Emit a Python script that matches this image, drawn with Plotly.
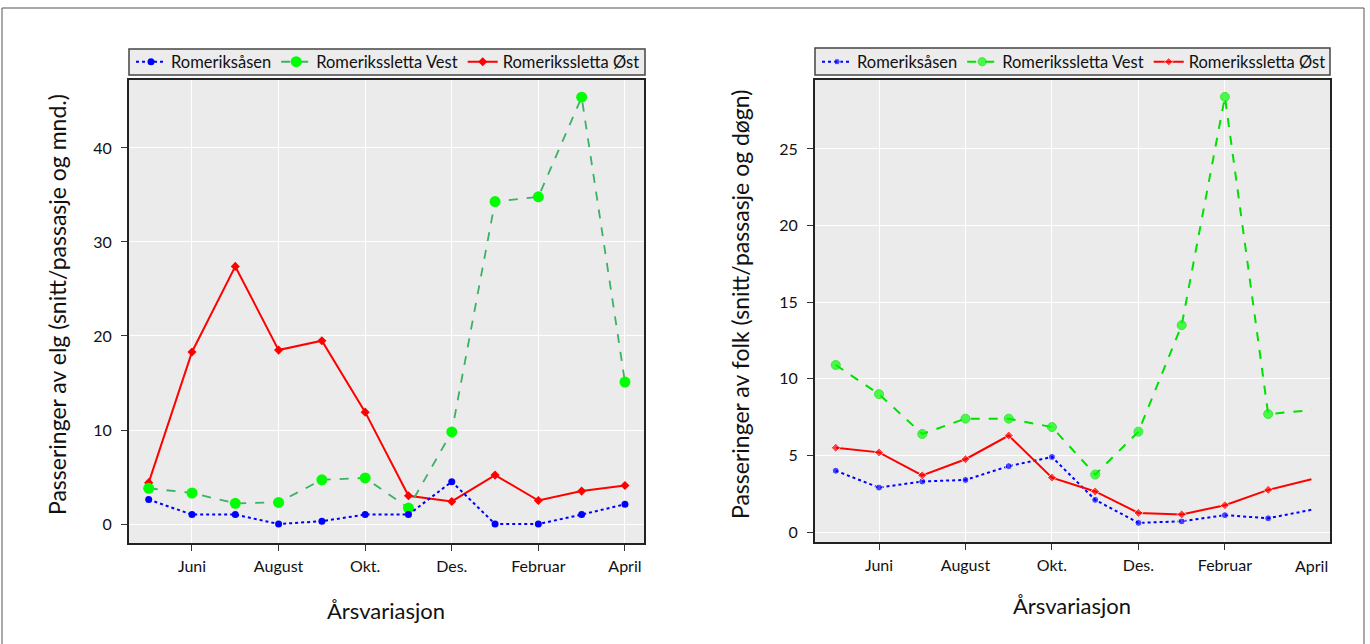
import plotly.graph_objects as go

W, H = 1370, 644

# Month index: 0 = mai ... 11 = april
months = list(range(12))
tick_pos = [1, 3, 5, 7, 9, 11]
tick_text = ["Juni", "August", "Okt.", "Des.", "Februar", "April"]

series_names = ["Romeriksåsen", "Romerikssletta Vest", "Romerikssletta Øst"]

# Elg: snitt passeringer per passasje og måned
elg_aasen = [2.6, 1.0, 1.0, 0.0, 0.3, 1.0, 1.0, 4.5, 0.0, 0.0, 1.0, 2.1]
elg_vest = [3.8, 3.3, 2.2, 2.3, 4.7, 4.9, 1.7, 9.8, 34.3, 34.8, 45.4, 15.1]
elg_ost = [4.4, 18.3, 27.4, 18.5, 19.5, 11.9, 3.0, 2.4, 5.2, 2.5, 3.5, 4.1]

# Folk: snitt passeringer per passasje og døgn
folk_aasen = [4.0, 2.9, 3.3, 3.4, 4.3, 4.9, 2.1, 0.6, 0.7, 1.1, 0.9, 1.45]
folk_vest = [10.9, 9.0, 6.4, 7.4, 7.4, 6.85, 3.75, 6.55, 13.5, 28.4, 7.7, 7.95]
folk_ost = [5.5, 5.2, 3.7, 4.75, 6.3, 3.55, 2.65, 1.25, 1.15, 1.75, 2.75, 3.45]

FONT = "Lato"
BLUE, RED, LIME = "#0000ff", "#ff0000", "#00ff00"


def px_x(p):
    return p / W


def px_y(p):
    return 1 - p / H


fig = go.Figure()

# ---- left panel: elg (red drawn first so the green markers sit on top) ----
fig.add_trace(go.Scatter(
    x=months, y=elg_ost, name=series_names[2], mode="lines+markers",
    line=dict(color=RED, width=2),
    marker=dict(color=RED, size=7, symbol="diamond"), xaxis="x", yaxis="y",
    legend="legend", legendrank=3))
fig.add_trace(go.Scatter(
    x=months, y=elg_vest, name=series_names[1], mode="lines+markers",
    line=dict(color="#3cb064", width=1.8, dash="dash"),
    marker=dict(color=LIME, size=11), xaxis="x", yaxis="y", legend="legend",
    legendrank=2))
fig.add_trace(go.Scatter(
    x=months, y=elg_aasen, name=series_names[0], mode="lines+markers",
    line=dict(color=BLUE, width=2, dash="dot"),
    marker=dict(color=BLUE, size=7), xaxis="x", yaxis="y", legend="legend",
    legendrank=1))

# ---- right panel: folk (last point drawn without a marker) ----
end_sizes = lambda s: [s] * (len(months) - 1) + [0]
fig.add_trace(go.Scatter(
    x=months, y=folk_aasen, name=series_names[0], mode="lines+markers",
    line=dict(color=BLUE, width=2, dash="dot"),
    marker=dict(color=BLUE, size=end_sizes(7)), xaxis="x2", yaxis="y2",
    legend="legend2"))
fig.add_trace(go.Scatter(
    x=months, y=folk_vest, name=series_names[1], mode="lines+markers",
    line=dict(color="#00e000", width=2, dash="dash"),
    marker=dict(color=LIME, size=end_sizes(9)), xaxis="x2", yaxis="y2",
    legend="legend2"))
fig.add_trace(go.Scatter(
    x=months, y=folk_ost, name=series_names[2], mode="lines+markers",
    line=dict(color=RED, width=2),
    marker=dict(color=RED, size=end_sizes(7), symbol="diamond"), xaxis="x2",
    yaxis="y2", legend="legend2"))

axis_common = dict(
    showline=True, mirror=True, linecolor="#222", linewidth=2,
    ticks="outside", ticklen=6, tickwidth=1, tickcolor="#333",
    gridcolor="#ffffff", gridwidth=1, zeroline=False,
    tickfont=dict(family=FONT, size=16, color="#111"),
    automargin=False, fixedrange=True,
)

left_dom_x = [px_x(129), px_x(644)]
right_dom_x = [px_x(815), px_x(1330)]
left_dom_y = [px_y(543), px_y(80)]
right_dom_y = [px_y(542), px_y(80)]

legend_common = dict(
    orientation="h", xanchor="left", yanchor="middle",
    bgcolor="rgba(0,0,0,0)", borderwidth=0,
    font=dict(family=FONT, size=16.5, color="#111"),
)

fig.update_layout(
    width=W, height=H,
    margin=dict(l=0, r=0, t=0, b=0),
    paper_bgcolor="white", plot_bgcolor="#ebebeb",
    showlegend=True,
    xaxis=dict(domain=left_dom_x, range=[-0.455, 11.44], tickvals=tick_pos,
               ticktext=tick_text, ticklabelstandoff=2, anchor="y",
               **axis_common),
    yaxis=dict(domain=left_dom_y, range=[-2.02, 47.23],
               tickvals=[0, 10, 20, 30, 40], ticklabelstandoff=6, anchor="x",
               **axis_common),
    xaxis2=dict(domain=right_dom_x, range=[-0.48, 11.43],
                tickvals=tick_pos[:-1], ticktext=tick_text[:-1],
                ticklabelstandoff=2, anchor="y2", **axis_common),
    yaxis2=dict(domain=right_dom_y, range=[-0.65, 29.5],
                tickvals=[0, 5, 10, 15, 20, 25], ticklabelstandoff=6,
                anchor="x2", **axis_common),
    legend=dict(x=px_x(131), y=px_y(62), **legend_common),
    legend2=dict(x=px_x(817), y=px_y(62), **legend_common),
)

title_font = dict(family=FONT, size=23, color="#111")
xtitle_font = dict(family=FONT, size=22, color="#111")
centered = dict(xref="paper", yref="paper", showarrow=False,
                xanchor="center", yanchor="middle")
annotations = [
    dict(text="Passeringer av elg (snitt/passasje og mnd.)", textangle=-90,
         x=px_x(57), y=px_y(305), font=title_font, **centered),
    dict(text="Passeringer av folk (snitt/passasje og døgn)", textangle=-90,
         x=px_x(740), y=px_y(305), font=title_font, **centered),
    dict(text="Årsvariasjon", x=px_x(386), y=px_y(610), font=xtitle_font,
         **centered),
    dict(text="Årsvariasjon", x=px_x(1072), y=px_y(605), font=xtitle_font,
         **centered),
    # last month label on the right panel (no tick or grid line there)
    dict(text=tick_text[-1], x=tick_pos[-1], xref="x2", y=px_y(565),
         yref="paper", showarrow=False, xanchor="center", yanchor="middle",
         font=dict(family=FONT, size=16, color="#111")),
]
fig.update_layout(annotations=annotations)

shapes = [
    # outer frame
    dict(type="rect", xref="paper", yref="paper", x0=px_x(2), x1=px_x(1364),
         y0=-0.05, y1=px_y(8), line=dict(color="#555", width=1),
         fillcolor="rgba(0,0,0,0)"),
    # legend boxes
    dict(type="rect", xref="paper", yref="paper", x0=px_x(129), x1=px_x(645),
         y0=px_y(75), y1=px_y(49), line=dict(color="#444", width=1.5),
         fillcolor="#ececec", layer="below"),
    dict(type="rect", xref="paper", yref="paper", x0=px_x(815), x1=px_x(1330),
         y0=px_y(75), y1=px_y(48), line=dict(color="#444", width=1.5),
         fillcolor="#ececec", layer="below"),
]
fig.update_layout(shapes=shapes)

fig.write_html("out.html")
